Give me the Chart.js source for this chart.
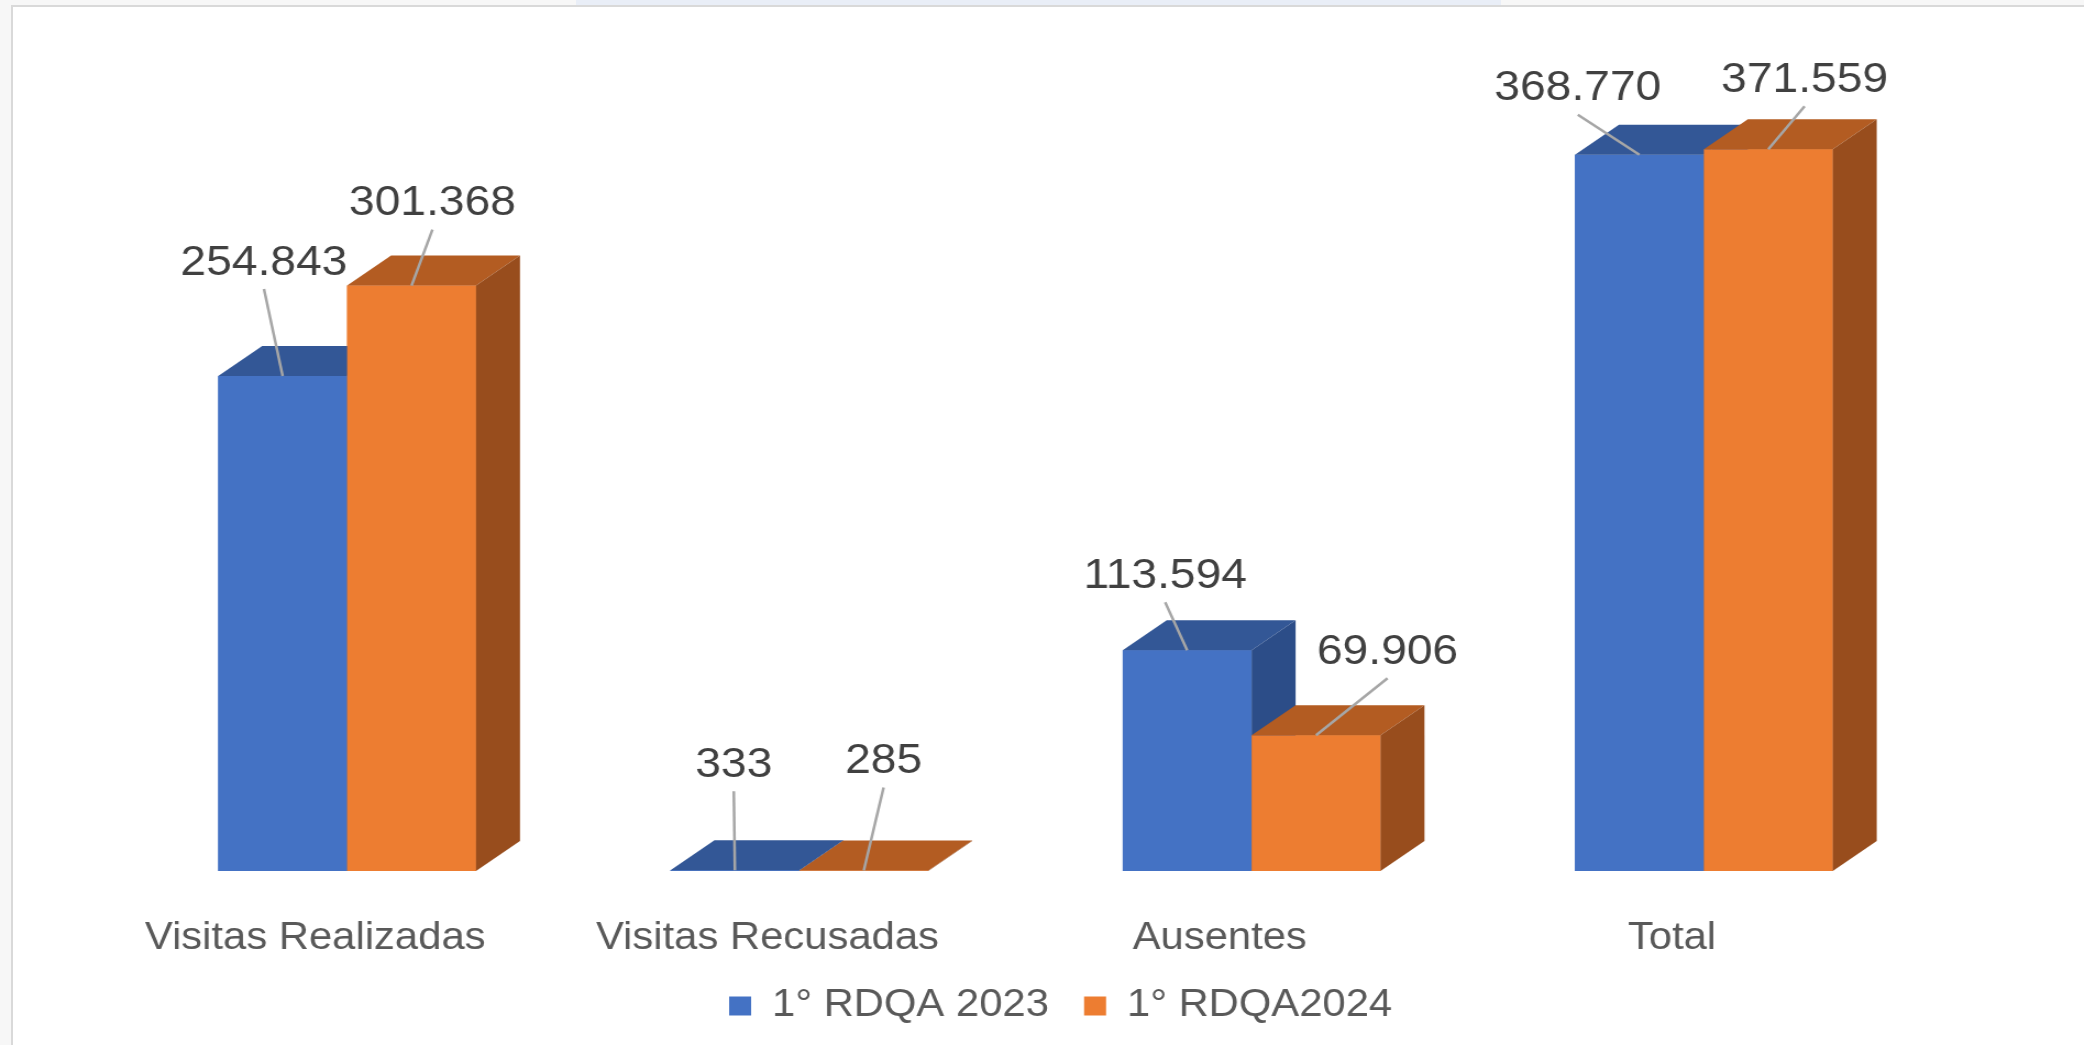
<!DOCTYPE html>
<html>
<head>
<meta charset="utf-8">
<script src="https://cdn.jsdelivr.net/npm/chart.js@4.4.1/dist/chart.umd.min.js"></script>
<style>
html, body { margin: 0; padding: 0; background: #fff; width: 2084px; height: 1045px; overflow: hidden; }
#marco { position: absolute; left: 0; top: 0; width: 1895px; height: 1045px; transform: scaleX(1.0997); transform-origin: 0 0; }
#franja { position: absolute; left: 0; top: 0; width: 2084px; height: 5px; background: #f7f7f7; }
#banda { position: absolute; left: 576px; top: 0; width: 925px; height: 5px; background: #e9eef7; }
#lateral { position: absolute; left: 0; top: 0; width: 11px; height: 1045px; background: #f7f7f7; }
#lineaSup { position: absolute; left: 11px; top: 5px; width: 2073px; height: 2px; background: #d9d9d9; }
#lineaIzq { position: absolute; left: 11px; top: 5px; width: 2px; height: 1040px; background: #d9d9d9; }
</style>
</head>
<body>
<div id="marco"><canvas id="grafico" width="1895" height="1045"></canvas></div>
<div id="franja"></div>
<div id="banda"></div>
<div id="lateral"></div>
<div id="lineaSup"></div>
<div id="lineaIzq"></div>
<script>
var categorias = ['Visitas Realizadas', 'Visitas Recusadas', 'Ausentes', 'Total'];
var series = ['1° RDQA 2023', '1° RDQA2024'];
var rdqa2023 = [254843, 333, 113594, 368770];
var rdqa2024 = [301368, 285, 69906, 371559];

// colores: frente, tapa, lado
var coloresFrente = ['#4472c4', '#ed7d31'];
var coloresTapa = ['#335796', '#b35c22'];
var coloresLado = ['#2c4d88', '#984d1d'];
var PROF_X = 40;
var PROF_Y = 30;

// posicion de cada etiqueta respecto al centro superior de la barra
var posEtiquetas = [
    [[-17, -113], [-1, -105], [-20, -74], [-56, -66]],
    [[19, -82], [18, -109], [65, -83], [33, -69]]
];

function formato(v) {
    return String(v).replace(/\B(?=(\d{3})+(?!\d))/g, '.');
}

var barras3d = {
    id: 'barras3d',
    afterLayout: function (chart) {
        chart.legend.left += 32;
        chart.legend.right += 32;
    },
    afterDatasetsDraw: function (chart) {
        var ctx = chart.ctx;
        for (var d = 0; d < chart.data.datasets.length; d++) {
            var meta = chart.getDatasetMeta(d);
            for (var i = 0; i < meta.data.length; i++) {
                var bar = meta.data[i];
                var izq = bar.x - bar.width / 2;
                var der = bar.x + bar.width / 2;
                bar.draw(ctx);
                ctx.save();
                ctx.fillStyle = coloresTapa[d];
                ctx.beginPath();
                ctx.moveTo(izq, bar.y);
                ctx.lineTo(izq + PROF_X, bar.y - PROF_Y);
                ctx.lineTo(der + PROF_X, bar.y - PROF_Y);
                ctx.lineTo(der, bar.y);
                ctx.closePath();
                ctx.fill();
                ctx.fillStyle = coloresLado[d];
                ctx.beginPath();
                ctx.moveTo(der, bar.y);
                ctx.lineTo(der + PROF_X, bar.y - PROF_Y);
                ctx.lineTo(der + PROF_X, bar.base - PROF_Y);
                ctx.lineTo(der, bar.base);
                ctx.closePath();
                ctx.fill();
                ctx.restore();
            }
        }
        // etiquetas con lineas guia
        ctx.save();
        ctx.font = '42px "Liberation Sans", Arial, sans-serif';
        ctx.textAlign = 'center';
        ctx.textBaseline = 'middle';
        for (var d = 0; d < chart.data.datasets.length; d++) {
            var meta = chart.getDatasetMeta(d);
            var valores = chart.data.datasets[d].data;
            for (var i = 0; i < meta.data.length; i++) {
                var bar = meta.data[i];
                var lx = bar.x + posEtiquetas[d][i][0];
                var ly = bar.y + posEtiquetas[d][i][1];
                ctx.strokeStyle = '#a6a6a6';
                ctx.lineWidth = 2.5;
                ctx.beginPath();
                ctx.moveTo(lx, ly + 26);
                ctx.lineTo(bar.x, bar.y);
                ctx.stroke();
                ctx.fillStyle = '#404040';
                ctx.fillText(formato(valores[i]), lx, ly);
            }
        }
        ctx.restore();
    }
};

var datos = {
    type: 'bar',
    data: {
        labels: categorias,
        datasets: [{
            label: series[0],
            data: rdqa2023,
            backgroundColor: coloresFrente[0],
            borderWidth: 0
        }, {
            label: series[1],
            data: rdqa2024,
            backgroundColor: coloresFrente[1],
            borderWidth: 0
        }]
    },
    options: {
        responsive: false,
        animation: false,
        devicePixelRatio: 1,
        layout: {
            padding: { left: 110, right: 140, top: 94, bottom: 10 }
        },
        datasets: {
            bar: { barPercentage: 1, categoryPercentage: 0.57 }
        },
        scales: {
            x: {
                grid: { display: false, drawTicks: false },
                border: { display: false },
                ticks: {
                    color: '#595959',
                    padding: 49,
                    labelOffset: -29,
                    font: { family: '"Liberation Sans", Arial, sans-serif', size: 38, lineHeight: 1 }
                },
                afterFit: function (scale) { scale.height = 84; }
            },
            y: {
                display: false,
                min: 0,
                max: 400000
            }
        },
        plugins: {
            tooltip: { enabled: false },
            legend: {
                position: 'bottom',
                labels: {
                    color: '#595959',
                    boxWidth: 20,
                    boxHeight: 19,
                    padding: 32,
                    font: { family: '"Liberation Sans", Arial, sans-serif', size: 38 }
                }
            }
        }
    },
    plugins: [barras3d]
};

var canvas = document.getElementById('grafico').getContext('2d');
window.barras = new Chart(canvas, datos);
</script>
</body>
</html>
